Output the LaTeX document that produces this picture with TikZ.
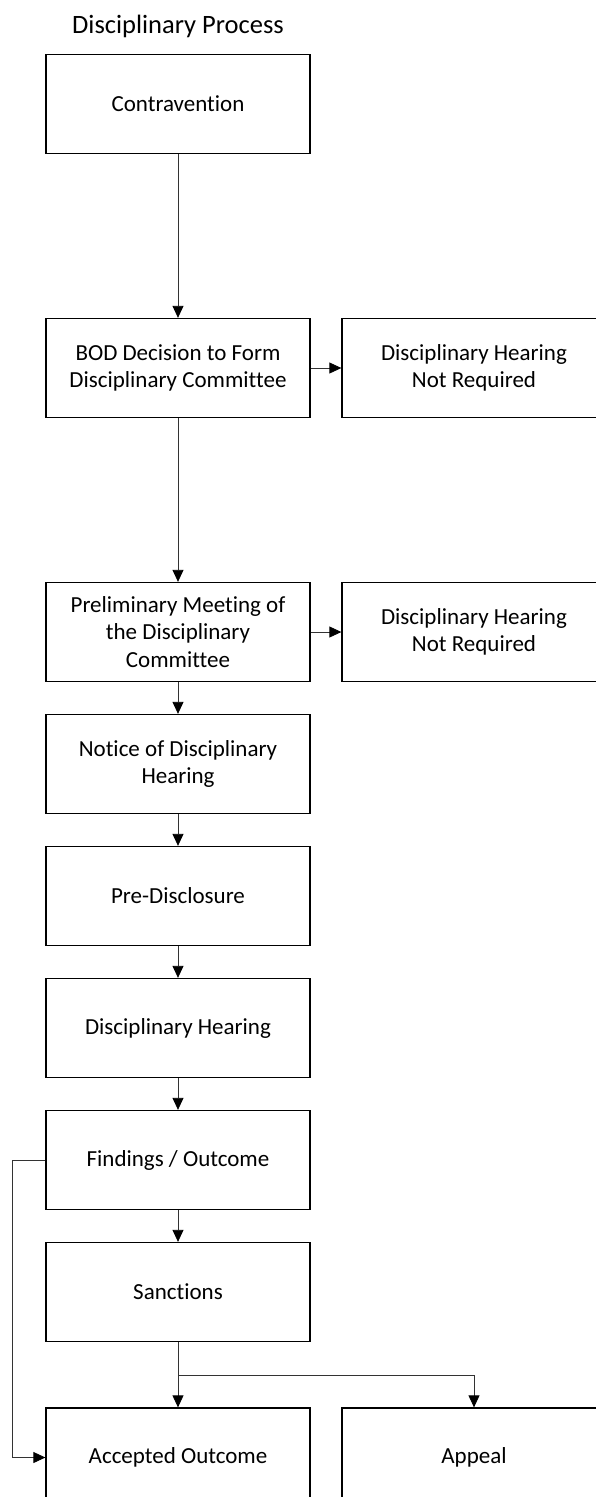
\documentclass[tikz,border=0pt]{standalone}
\usepackage{fontspec}
\setmainfont[Ligatures=NoCommon]{Carlito}
\usepackage{tikz}
\usetikzlibrary{shapes,arrows.meta,positioning}
\tikzstyle{block} = [rectangle, draw, line width=1.3pt, align=center,
minimum width=264pt, minimum height=99pt, inner sep=0pt,
font=\fontsize{23}{27.7}\selectfont]
\tikzstyle{line} = [draw, line width=0.8pt, black!80]
\tikzstyle{arrow} = [draw, line width=0.8pt, black!80, -{Triangle[length=12pt,width=11pt,black]}]

\begin{document}
\begin{tikzpicture}[node distance = 132pt, auto]
	\useasboundingbox (0,0) rectangle (595pt,-1497pt);
	\node [font=\fontsize{26.5}{30}\selectfont] (title) at (178pt,-26pt) {Disciplinary Process};
	
	\node [block] (contravention) at (178pt,-104pt) {Contravention};
	\node [block, below of=contravention, node distance=264pt] (bod) {BOD Decision to Form\\ Disciplinary Committee};
	\node [block, right of=bod, node distance=296pt] (notreqone) {Disciplinary Hearing\\ Not Required};
	\node [block, below of=bod, node distance=264pt] (preliminary) {Preliminary Meeting of\\ the Disciplinary\\ Committee};
	\node [block, right of=preliminary, node distance=296pt] (notreqtwo) {Disciplinary Hearing\\ Not Required};
	\node [block, below of=preliminary] (notice) {Notice of Disciplinary\\ Hearing};
	\node [block, below of=notice] (predisclosure) {Pre-Disclosure};
	\node [block, below of=predisclosure] (hearing) {Disciplinary Hearing};
	\node [block, below of=hearing] (findings) {Findings / Outcome};
	\node [block, below of=findings] (sanctions) {Sanctions};
	\node [block, below of=sanctions, node distance=165.5pt] (accepted) {Accepted Outcome};
	\node [block, right of=accepted, node distance=296pt] (appeal) {Appeal};
	
	
	\path [arrow] (contravention)--(bod);
	\path [arrow] (bod)--(notreqone);
	\path [arrow] (bod)--(preliminary);
	\path [arrow] (preliminary)--(notreqtwo);
	\path [arrow] (preliminary)--(notice);
	\path [arrow] (notice)--(predisclosure);
	\path [arrow] (predisclosure)--(hearing);
	\path [arrow] (hearing)--(findings);
	\path [arrow] (findings)--(sanctions);
	
	
	\path [arrow] (sanctions)--(accepted);
	\path [arrow] (sanctions.south) -- ++(0,-33pt) -| (appeal.north);
	\path [arrow] (findings.west) -- ++(-33pt,0) |- (accepted.west);
\end{tikzpicture}
\end{document}
